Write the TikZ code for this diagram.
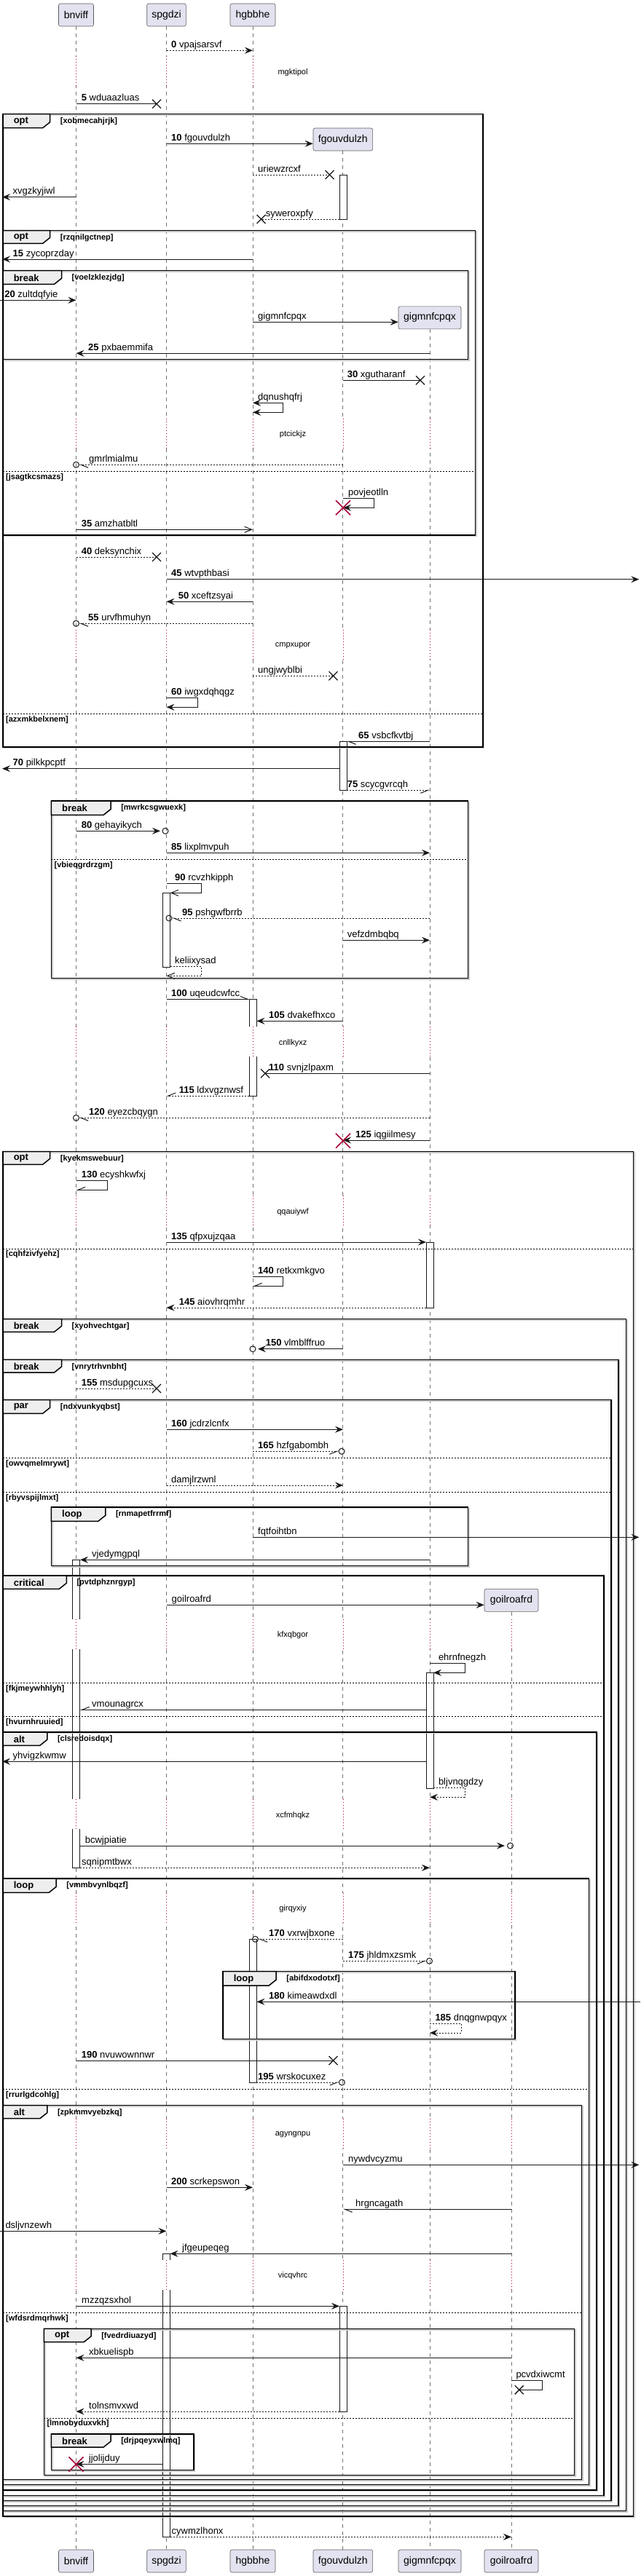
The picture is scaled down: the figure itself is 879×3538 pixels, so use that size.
\documentclass[tikz,border=0pt]{standalone}
\usepackage{fontspec}
\setmainfont{Liberation Sans}
\usetikzlibrary{arrows.meta}
\definecolor{crim}{HTML}{A80036}
\definecolor{pfill}{HTML}{E2E2F0}
\definecolor{tabfill}{HTML}{EEEEEE}
\definecolor{ink}{HTML}{181818}
\tikzset{
  pbox/.style={draw=ink!70, fill=pfill, line width=0.6pt, rounded corners=2.5pt, minimum height=31pt, inner sep=0pt, font=\fontsize{14}{16}\selectfont},
  lifeline/.style={draw=black!55, line width=0.7pt, dash pattern=on 5pt off 5pt},
  delayline/.style={draw=crim, line width=0.9pt, dash pattern=on 1pt off 3pt},
  msg/.style={draw=ink, line width=1pt},
  dmsg/.style={msg, dash pattern=on 2pt off 2pt},
  fa/.style={-{Stealth[length=11pt,width=9pt,inset=4pt]}},
  ba/.style={arrows={Stealth[length=11pt,width=9pt,inset=4pt]-Stealth[length=11pt,width=9pt,inset=4pt]}},
  oa/.style={-{Straight Barb[length=10pt,width=8pt]}},
  hl/.style={-{Straight Barb[left,length=10pt,width=8pt]}},
  hr/.style={-{Straight Barb[right,length=10pt,width=8pt]}},
  lbl/.style={anchor=base west, inner sep=0pt, font=\fontsize{13}{15}\selectfont},
  frame/.style={draw=black, line width=1.5pt},
  fshadow/.style={draw=black!22, line width=1.5pt},
  tab/.style={draw=black, fill=tabfill, line width=1.5pt},
  kw/.style={anchor=west, inner sep=0pt, font=\fontsize{13}{15}\selectfont\bfseries},
  cond/.style={anchor=west, inner sep=0pt, font=\fontsize{11}{13}\selectfont\bfseries},
  divline/.style={draw=black, line width=1pt, dash pattern=on 2pt off 2pt},
  dtext/.style={inner sep=0pt, font=\fontsize{11}{13}\selectfont},
  actbox/.style={draw=ink, fill=white, line width=0.8pt},
  xmark/.style={draw=ink, line width=1.3pt},
  redx/.style={draw=crim, line width=1.6pt},
}
\def\LA{104.5}
\def\LB{228.5}
\def\LC{347}
\def\LD{471}
\def\LE{590}
\def\LF{702}
\newcommand\xmk[2]{\draw[xmark] ({#1-6},{#2-6}) -- ({#1+6},{#2+6}) ({#1-6},{#2+6}) -- ({#1+6},{#2-6});}
\newcommand\redxmk[2]{\draw[redx] ({#1-10},{#2-10}) -- ({#1+10},{#2+10}) ({#1-10},{#2+10}) -- ({#1+10},{#2-10});}
\newcommand\ocmark[2]{\draw[msg] (#1,#2) circle[radius=4pt];}
\newcommand\actv[3]{\filldraw[actbox] ({#1-5},#2) rectangle ({#1+5},#3);}
\newcommand\delayband[4]{%
  \foreach \xx in {#2} {\fill[white] ({\xx-6.5},{#1-22}) rectangle ({\xx+6.5},{#1+19});
    \draw[delayline] (\xx,{#1-22}) -- (\xx,{#1+19});}
  \node[dtext] (#4) at (402,#1) {#3};}
\newcommand\fragbox[9]{%
  \draw[fshadow] ({#1+1.5},{#2+1.5}) rectangle ({#3+1.5},{#4+1.5});
  \draw[frame] (#1,#2) rectangle (#3,#4);
  \filldraw[tab] (#1,#2) -- (#5,#2) -- (#5,{#6-8}) -- ({#5-10},#6) -- (#1,#6) -- cycle;
  \node[kw] (#9k) at ({#1+14.6},{(#2+#6)/2+0.5}) {#7};
  \node[cond] (#9c) at ({#5+14},{#2+10}) {[#8]};}
\newcommand\fdiv[5]{%
  \draw[divline] (#1,#3) -- (#2,#3);
  \node[cond] (#5) at ({#1+4},{#3+8}) {[#4]};}
\begin{document}
\begin{tikzpicture}[x=1pt,y=-1pt]
\useasboundingbox (0,0) rectangle (879,3538);
\fill[white] (0,0) rectangle (879,3538);
% participants
\node[pbox, minimum width=48pt] (pA) at (\LA,20.5) {bnviff};
\node[pbox, minimum width=53.6pt] (pB) at (\LB,20.5) {spgdzi};
\node[pbox, minimum width=62pt] (pC) at (\LC,20.5) {hgbbhe};
\node[pbox, minimum width=81.7pt] (pD) at (470.8,191.5) {fgouvdulzh};
\node[pbox, minimum width=86pt] (pE) at (\LE,436.3) {gigmnfcpqx};
\node[pbox, minimum width=74pt] (pF) at (\LF,2197.8) {goilroafrd};
\node[pbox, minimum width=48pt] (qA) at (\LA,3517.5) {bnviff};
\node[pbox, minimum width=53.6pt] (qB) at (\LB,3517.5) {spgdzi};
\node[pbox, minimum width=62pt] (qC) at (\LC,3517.5) {hgbbhe};
\node[pbox, minimum width=81.7pt] (qD) at (470.8,3517.5) {fgouvdulzh};
\node[pbox, minimum width=86pt] (qE) at (\LE,3517.5) {gigmnfcpqx};
\node[pbox, minimum width=74pt] (qF) at (\LF,3517.5) {goilroafrd};
% lifelines
\draw[lifeline] (pA.south) -- (qA.north);
\draw[lifeline] (pB.south) -- (qB.north);
\draw[lifeline] (pC.south) -- (qC.north);
\draw[lifeline] (pD.south) -- (qD.north);
\draw[lifeline] (pE.south) -- (qE.north);
\draw[lifeline] (pF.south) -- (qF.north);
% activations
\actv{\LD}{240}{301}
\actv{\LD}{1018.3}{1085.3}
\actv{\LD}{3167.3}{3312}
\actv{\LB}{1226.3}{1328.3}
\actv{\LB}{3095.3}{3484.3}
\actv{\LC}{1372.3}{1505}
\actv{\LC}{2663.3}{2860.7}
\actv{\LE}{1706}{1796}
\actv{\LE}{2297.3}{2456}
\actv{\LA}{2142.3}{2565.3}
% delays
\delayband{99.3}{\LA,\LB,\LC}{mgktipol}{d1}
\delayband{596.7}{\LA,\LB,\LC,\LD,\LE}{ptcickjz}{d2}
\delayband{887}{\LA,\LB,\LC,\LD,\LE}{cmpxupor}{d3}
\delayband{1432.3}{\LA,\LB,\LC,\LD,\LE}{cnllkyxz}{d4}
\delayband{1664.3}{\LA,\LB,\LC,\LD,\LE}{qqauiywf}{d5}
\delayband{2246}{\LA,\LB,\LC,\LD,\LE,\LF}{kfxqbgor}{d6}
\delayband{2493.3}{\LA,\LB,\LC,\LD,\LE,\LF}{xcfmhqkz}{d7}
\delayband{2621.7}{\LA,\LB,\LC,\LD,\LE,\LF}{girqyxiy}{d8}
\delayband{2931.7}{\LA,\LB,\LC,\LD,\LE,\LF}{agyngnpu}{d9}
\delayband{3125.7}{\LA,\LB,\LC,\LD,\LE,\LF}{vicqvhrc}{d10}
% frames
\fragbox{4}{156.7}{663}{1026}{68.7}{175.7}{opt}{xobmecahjrjk}{fa}
\fdiv{4}{663}{980.7}{azxmkbelxnem}{fav}
\fragbox{4}{316.7}{652.5}{735}{68.7}{334.3}{opt}{rzqnilgctnep}{fb}
\fdiv{4}{652.5}{647.3}{jsagtkcsmazs}{fbv}
\fragbox{4}{371.7}{642.4}{493.7}{84.5}{390.3}{break}{voelzklezjdg}{fc}
\fragbox{70.4}{1100}{642.4}{1343.3}{152.1}{1119.3}{break}{mwrkcsgwuexk}{fd}
\fdiv{70.4}{642.4}{1180.3}{vbieqgrdrzgm}{fdv}
\fragbox{4}{1581.7}{869.5}{3456}{68.7}{1599.3}{opt}{kyekmswebuur}{fe}
\fdiv{4}{869.5}{1715}{cqhfzivfyehz}{fev}
\fragbox{4}{1811.7}{859.3}{3448.7}{84.5}{1829.3}{break}{xyohvechtgar}{ff}
\fragbox{4}{1867.3}{849.2}{3441.7}{84.5}{1885}{break}{vnrytrhvnbht}{fg}
\fragbox{4}{1922.7}{839}{3434.3}{68.7}{1941.3}{par}{ndxvunkyqbst}{fh}
\fdiv{4}{839}{2002.3}{owvqmelmrywt}{fhv}
\fdiv{4}{839}{2049.3}{rbyvspijlmxt}{fhw}
\fragbox{70.4}{2070}{642.4}{2150.7}{144.8}{2089.3}{loop}{rnmapetfrrmf}{fi}
\fragbox{4}{2164}{829}{3427.3}{91.3}{2182.3}{critical}{pvtdphznrgyp}{fj}
\fdiv{4}{829}{2311.7}{fkjmeywhhlyh}{fjv}
\fdiv{4}{829}{2357.3}{hvurnhruuied}{fjw}
\fragbox{4}{2379}{818.8}{3420}{64.8}{2397.3}{alt}{clsredoisdqx}{fk}
\fragbox{4}{2580}{808.6}{3412.7}{77.2}{2599.3}{loop}{vmmbvynlbqzf}{fl}
\fdiv{4}{808.6}{2869.3}{rrurlgdcohlg}{flv}
\fragbox{306}{2707.7}{707.2}{2800.7}{379.2}{2727}{loop}{abifdxodotxf}{fm}
\fragbox{4}{2891.7}{798.5}{3405.7}{64.8}{2909.7}{alt}{zpkmmvyebzkq}{fn}
\fdiv{4}{798.5}{3176.3}{wfdsrdmqrhwk}{fnv}
\fragbox{60.3}{3198.3}{788.3}{3399.3}{125.1}{3216.7}{opt}{fvedrdiuazyd}{fo}
\fdiv{60.3}{788.3}{3321}{lmnobyduxvkh}{fov}
\fragbox{70.4}{3343}{266}{3392.7}{152.1}{3361}{break}{drjpqeyxwlmq}{fp}
% messages
\draw[dmsg,fa] (\LB,69.3) -- (\LC,69.3);
\node[lbl] (m1) at (235,65.3) {\textbf{0} vpajsarsvf};
\draw[msg] (\LA,142.7) -- (215,142.7); \xmk{215}{142.7}
\node[lbl] (m2) at (111.6,138.7) {\textbf{5} wduaazluas};
\draw[msg,fa] (\LB,197.3) -- (pD.west |- 0,197.3);
\node[lbl] (m3) at (235,193.3) {\textbf{10} fgouvdulzh};
\draw[dmsg] (\LC,240) -- (452.5,240); \xmk{452.5}{240}
\node[lbl] (m4) at (354,236) {uriewzrcxf};
\draw[msg,fa] (\LA,270.7) -- (3,270.7);
\node[lbl] (m5) at (17.5,266.7) {xvgzkyjiwl};
\draw[dmsg] (466,301) -- (358.5,301); \xmk{358.5}{301}
\node[lbl] (m6) at (364.6,297) {syweroxpfy};
\draw[msg,fa] (\LC,356) -- (3,356);
\node[lbl] (m7) at (17.5,352) {\textbf{15} zycoprzday};
\draw[msg,fa] (0,412.3) -- (\LA,412.3);
\node[lbl] (m8) at (6.2,408.3) {\textbf{20} zultdqfyie};
\draw[msg,fa] (\LC,442.3) -- (pE.west |- 0,442.3);
\node[lbl] (m9) at (354,438.3) {gigmnfcpqx};
\draw[msg,fa] (\LE,485.3) -- (\LA,485.3);
\node[lbl] (m10) at (121,481.3) {\textbf{25} pxbaemmifa};
\draw[msg] (\LD,522.3) -- (577,522.3); \xmk{577}{522.3}
\node[lbl] (m11) at (476.7,518.3) {\textbf{30} xgutharanf};
\draw[msg,ba] (\LC,553.3) -- (388.8,553.3) -- (388.8,566.3) -- (\LC,566.3);
\node[lbl] (m12) at (354,549.3) {dqnushqfrj};
\draw[dmsg,hl] (\LD,638.3) -- (108.5,638.3); \ocmark{\LA}{638.3}
\node[lbl] (m13) at (122,634.3) {gmrlmialmu};
\draw[msg,fa] (\LD,684.3) -- (513.3,684.3) -- (513.3,697.3) -- (\LD,697.3); \redxmk{\LD}{697.3}
\node[lbl] (m14) at (478,680.3) {povjeotlln};
\draw[msg,oa] (\LA,727.3) -- (\LC,727.3);
\node[lbl] (m15) at (111.6,723.3) {\textbf{35} amzhatbltl};
\draw[dmsg] (\LA,765) -- (215,765); \xmk{215}{765}
\node[lbl] (m16) at (111.6,761) {\textbf{40} deksynchix};
\draw[msg,fa] (\LB,795.7) -- (877.4,795.7);
\node[lbl] (m17) at (235,791.7) {\textbf{45} wtvpthbasi};
\draw[msg,fa] (\LC,826.3) -- (\LB,826.3);
\node[lbl] (m18) at (244.6,822.3) {\textbf{50} xceftzsyai};
\draw[dmsg,hl] (\LC,856.3) -- (108.5,856.3); \ocmark{\LA}{856.3}
\node[lbl] (m19) at (121,852.3) {\textbf{55} urvfhmuhyn};
\draw[dmsg] (\LC,928.3) -- (457.5,928.3); \xmk{457.5}{928.3}
\node[lbl] (m20) at (354,924.3) {ungjwyblbi};
\draw[msg,fa] (\LB,958.3) -- (271,958.3) -- (271,971.3) -- (\LB,971.3);
\node[lbl] (m21) at (235,954.3) {\textbf{60} iwgxdqhqgz};
\draw[msg,hl] (\LE,1018.3) -- (476,1018.3);
\node[lbl] (m22) at (492,1014.3) {\textbf{65} vsbcfkvtbj};
\draw[msg,fa] (466,1055.7) -- (3,1055.7);
\node[lbl] (m23) at (17.5,1051.7) {\textbf{70} pilkkpcptf};
\draw[dmsg,hr] (476,1085.3) -- (\LE,1085.3);
\node[lbl] (m24) at (476.7,1081.3) {\textbf{75} scycgvrcqh};
\draw[msg,fa] (\LA,1141.3) -- (220,1141.3); \ocmark{227}{1141.3}
\node[lbl] (m25) at (111.6,1137.3) {\textbf{80} gehayikych};
\draw[msg,fa] (\LB,1171.3) -- (\LE,1171.3);
\node[lbl] (m26) at (235,1167.3) {\textbf{85} lixplmvpuh};
\draw[msg,oa] (\LB,1213.3) -- (276,1213.3) -- (276,1226.3) -- (233.5,1226.3);
\node[lbl] (m27) at (240,1209.3) {\textbf{90} rcvzhkipph};
\draw[dmsg,hl] (\LE,1261) -- (236,1261); \ocmark{232}{1261}
\node[lbl] (m28) at (250,1257) {\textbf{95} pshgwfbrrb};
\draw[msg,fa] (\LD,1291.3) -- (\LE,1291.3);
\node[lbl] (m29) at (476.7,1287.3) {vefzdmbqbq};
\draw[dmsg,oa] (233.5,1327) -- (276,1327) -- (276,1340.3) -- (\LB,1340.3);
\node[lbl] (m30) at (240,1323) {keliixysad};
\draw[msg,hl] (\LB,1372.3) -- (342.4,1372.3);
\node[lbl] (m31) at (235,1368.3) {\textbf{100} uqeudcwfcc};
\draw[msg,fa] (\LD,1402.3) -- (352.4,1402.3);
\node[lbl] (m32) at (369,1398.3) {\textbf{105} dvakefhxco};
\draw[msg] (\LE,1474.3) -- (364,1474.3); \xmk{364}{1474.3}
\node[lbl] (m33) at (369,1470.3) {\textbf{110} svnjzlpaxm};
\draw[dmsg,hr] (342.4,1505) -- (\LB,1505);
\node[lbl] (m34) at (245.7,1501) {\textbf{115} ldxvgznwsf};
\draw[dmsg,hl] (\LE,1535.3) -- (108.5,1535.3); \ocmark{\LA}{1535.3}
\node[lbl] (m35) at (122,1531.3) {\textbf{120} eyezcbqygn};
\draw[msg,fa] (\LE,1566) -- (\LD,1566); \redxmk{\LD}{1566.7}
\node[lbl] (m36) at (488,1562) {\textbf{125} iqgiilmesy};
\draw[msg,hr] (\LA,1621.7) -- (147,1621.7) -- (147,1634.3) -- (\LA,1634.3);
\node[lbl] (m37) at (111.6,1617.7) {\textbf{130} ecyshkwfxj};
\draw[msg,fa] (\LB,1706) -- (585,1706);
\node[lbl] (m38) at (235,1702) {\textbf{135} qfpxujzqaa};
\draw[msg,hr] (\LC,1753.7) -- (388.8,1753.7) -- (388.8,1766.3) -- (\LC,1766.3);
\node[lbl] (m39) at (354,1749.7) {\textbf{140} retkxmkgvo};
\draw[dmsg,fa] (585,1796) -- (\LB,1796);
\node[lbl] (m40) at (245.7,1792) {\textbf{145} aiovhrqmhr};
\draw[msg,fa] (\LD,1852.7) -- (354,1852.7); \ocmark{\LC}{1852.7}
\node[lbl] (m41) at (364.6,1848.7) {\textbf{150} vlmblffruo};
\draw[dmsg] (\LA,1907) -- (215,1907); \xmk{215}{1907}
\node[lbl] (m42) at (111.6,1903) {\textbf{155} msdupgcuxs};
\draw[msg,fa] (\LB,1963.3) -- (\LD,1963.3);
\node[lbl] (m43) at (235,1959.3) {\textbf{160} jcdrzlcnfx};
\draw[dmsg,hr] (\LC,1993.3) -- (465,1993.3); \ocmark{469}{1993.3}
\node[lbl] (m44) at (354,1989.3) {\textbf{165} hzfgabombh};
\draw[dmsg,fa] (\LB,2040) -- (\LD,2040);
\node[lbl] (m45) at (235,2036) {damjlrzwnl};
\draw[msg,fa] (\LC,2111.3) -- (877.4,2111.3);
\node[lbl] (m46) at (354,2107.3) {fqtfoihtbn};
\draw[msg,fa] (\LE,2142.3) -- (110,2142.3);
\node[lbl] (m47) at (126,2138.3) {vjedymgpql};
\draw[msg,fa] (\LB,2204.3) -- (pF.west |- 0,2204.3);
\node[lbl] (m48) at (235.5,2200.3) {goilroafrd};
\draw[msg,fa] (\LE,2284.3) -- (638,2284.3) -- (638,2297.3) -- (595,2297.3);
\node[lbl] (m49) at (601.8,2280.3) {ehrnfnegzh};
\draw[msg,hr] (585,2348.3) -- (110,2348.3);
\node[lbl] (m50) at (126,2344.3) {vmounagrcx};
\draw[msg,fa] (585,2419.3) -- (3,2419.3);
\node[lbl] (m51) at (17.5,2415.3) {yhvigzkwmw};
\draw[dmsg,fa] (595,2455.3) -- (638,2455.3) -- (638,2468.3) -- (\LE,2468.3);
\node[lbl] (m52) at (601.8,2451.3) {bljvnqgdzy};
\draw[msg,fa] (110,2535) -- (693,2535); \ocmark{700.5}{2535}
\node[lbl] (m53) at (116.6,2531) {bcwjpiatie};
\draw[dmsg,fa] (110,2565.3) -- (\LE,2565.3);
\node[lbl] (m54) at (112,2561.3) {sqnipmtbwx};
\draw[dmsg,hl] (\LD,2663.3) -- (354.5,2663.3); \ocmark{350.5}{2663.3}
\node[lbl] (m55) at (369,2659.3) {\textbf{170} vxrwjbxone};
\draw[dmsg,hr] (\LD,2693.3) -- (585.5,2693.3); \ocmark{589.5}{2693.3}
\node[lbl] (m56) at (478,2689.3) {\textbf{175} jhldmxzsmk};
\draw[msg,fa] (879,2749.3) -- (352.4,2749.3);
\node[lbl] (m57) at (369,2745.3) {\textbf{180} kimeawdxdl};
\draw[dmsg,fa] (\LE,2779.3) -- (633,2779.3) -- (633,2792) -- (\LE,2792);
\node[lbl] (m58) at (597.3,2775.3) {\textbf{185} dnqgnwpqyx};
\draw[msg] (\LA,2830) -- (457.5,2830); \xmk{457.5}{2830}
\node[lbl] (m59) at (111.6,2826) {\textbf{190} nvuwownnwr};
\draw[dmsg,hr] (352.4,2860) -- (465.4,2860); \ocmark{469.4}{2860}
\node[lbl] (m60) at (354,2856) {\textbf{195} wrskocuxez};
\draw[msg,fa] (\LD,2973.3) -- (877.4,2973.3);
\node[lbl] (m61) at (478,2969.3) {nywdvcyzmu};
\draw[msg,fa] (\LB,3004.3) -- (\LC,3004.3);
\node[lbl] (m62) at (235,3000.3) {\textbf{200} scrkepswon};
\draw[msg,hl] (\LF,3034.3) -- (\LD,3034.3);
\node[lbl] (m63) at (488,3030.3) {hrgncagath};
\draw[msg,fa] (0,3064.3) -- (\LB,3064.3);
\node[lbl] (m64) at (7.3,3060.3) {dsljvnzewh};
\draw[msg,fa] (\LF,3095.3) -- (233.5,3095.3);
\node[lbl] (m65) at (250,3091.3) {jfgeupeqeg};
\draw[msg,fa] (\LA,3167.3) -- (466,3167.3);
\node[lbl] (m66) at (112,3163.3) {mzzqzsxhol};
\draw[msg,fa] (\LF,3238.3) -- (\LA,3238.3);
\node[lbl] (m67) at (122,3234.3) {xbkuelispb};
\draw[msg] (\LF,3269.3) -- (744.4,3269.3) -- (744.4,3282.3) -- (712.8,3282.3); \xmk{712.8}{3282.3}
\node[lbl] (m68) at (708.3,3265.3) {pcvdxiwcmt};
\draw[dmsg,fa] (466,3312) -- (\LA,3312);
\node[lbl] (m69) at (122,3308) {tolnsmvxwd};
\draw[msg,fa] (223.5,3384.3) -- (\LA,3384.3); \redxmk{\LA}{3384.5}
\node[lbl] (m70) at (121.7,3380.3) {jjolijduy};
\draw[dmsg,fa] (233.5,3484.3) -- (\LF,3484.3);
\node[lbl] (m71) at (235.5,3480.3) {cywmzlhonx};
\end{tikzpicture}
\end{document}
